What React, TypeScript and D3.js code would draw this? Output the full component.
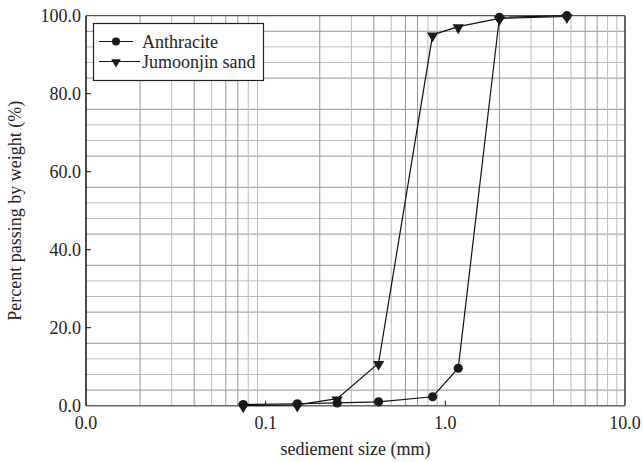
import React from "react";
import * as d3 from "d3";

const sizes = [0.075, 0.15, 0.25, 0.425, 0.85, 1.18, 2.0, 4.75];
const anthracite = [0.3, 0.5, 0.7, 1.0, 2.3, 9.6, 99.6, 100.0];
const jumoonjin = [0.0, 0.2, 1.8, 10.9, 95.1, 97.2, 99.3, 99.8];
const xTicks = [0.01, 0.1, 1, 10];
const xTickLabels = ["0.0", "0.1", "1.0", "10.0"];
const yTicks = [0, 20, 40, 60, 80, 100];
const yTickLabels = ["0.0", "20.0", "40.0", "60.0", "80.0", "100.0"];
const seriesNames = ["Anthracite", "Jumoonjin sand"];

const W = 643, H = 462;
const M = { left: 86, right: 625, top: 15.7, bottom: 405.7 };
const FS = { fontFamily: '"Liberation Serif"', fontSize: "18px" };

export default function App() {
  const x = d3.scaleLog().domain([0.01, 10]).range([M.left, M.right]);
  const y = d3.scaleLinear().domain([0, 100]).range([M.bottom, M.top]);
  const vGrid: { v: number; dark: boolean }[] = [];
  [0.01, 0.1, 1].forEach((d) => {
    for (let k = 2; k <= 9; k++) vGrid.push({ v: k * d, dark: [2, 4, 6, 7].includes(k) });
  });
  const hGrid: { v: number; dark: boolean }[] = [];
  for (let v = 4; v < 100; v += 4) if (v % 20) hGrid.push({ v, dark: v % 20 === 4 || v % 20 === 16 });
  const line = d3.line<number>().x((_, i) => x(sizes[i])).y((d) => y(d));
  const tri = d3.symbol().type(d3.symbolTriangle).size(55)() || "";
  const triL = d3.symbol().type(d3.symbolTriangle).size(40)() || "";
  return (
    <svg width={W} height={H} style={{ position: "absolute", left: 0, top: 0, display: "block" }}>
      <rect width={W} height={H} fill="#fff" />
      {hGrid.map((g) => <line key={"h" + g.v} x1={M.left} x2={M.right} y1={y(g.v)} y2={y(g.v)} stroke={g.dark ? "#959595" : "#bcbcbc"} />)}
      {vGrid.map((g) => <line key={"v" + g.v} x1={x(g.v)} x2={x(g.v)} y1={M.top} y2={M.bottom} stroke={g.dark ? "#959595" : "#bcbcbc"} />)}
      <line x1={M.left} x2={M.right} y1={M.top} y2={M.top} stroke="#555" strokeWidth={1.2} />
      <line x1={M.right} x2={M.right} y1={M.top} y2={M.bottom} stroke="#111" strokeWidth={1.3} />
      <line x1={M.left} x2={M.right} y1={M.bottom} y2={M.bottom} stroke="#666" strokeWidth={1.6} />
      <line x1={M.left} x2={M.left} y1={M.top} y2={M.bottom} stroke="#111" strokeWidth={1.5} />
      {yTicks.slice(1, -1).map((t) => <line key={"yt" + t} x1={M.left} x2={M.left + 5} y1={y(t)} y2={y(t)} stroke="#111" />)}
      {xTicks.slice(1, -1).map((t) => <line key={"xt" + t} x1={x(t)} x2={x(t)} y1={M.bottom} y2={M.bottom - 5} stroke="#111" />)}
      {yTicks.map((t, i) => <text key={"yl" + t} x={M.left - 5} y={y(t) + 6} textAnchor="end" fill="#222" style={FS}>{yTickLabels[i]}</text>)}
      {xTicks.map((t, i) => <text key={"xl" + t} x={x(t)} y={M.bottom + 23} textAnchor="middle" fill="#222" style={FS}>{xTickLabels[i]}</text>)}
      <text x={(M.left + M.right) / 2} y={455} textAnchor="middle" fill="#222" style={FS}>sediement size (mm)</text>
      <text transform={`translate(21,${(M.top + M.bottom) / 2}) rotate(-90)`} textAnchor="middle" fill="#222" style={FS}>Percent passing by weight (%)</text>
      <path d={line(jumoonjin) || ""} fill="none" stroke="#111" strokeWidth={1.2} />
      <path d={line(anthracite) || ""} fill="none" stroke="#111" strokeWidth={1.2} />
      {jumoonjin.map((v, i) => <path key={"j" + i} d={tri} transform={`translate(${x(sizes[i])},${y(v) + 1}) rotate(180)`} fill="#1a1a1a" />)}
      {anthracite.map((v, i) => <circle key={"a" + i} cx={x(sizes[i])} cy={y(v)} r={4.6} fill="#1a1a1a" />)}
      <rect x={93.5} y={23.5} width={170} height={57} fill="#fff" stroke="#222" strokeWidth={1.2} />
      <line x1={99} x2={133} y1={41.5} y2={41.5} stroke="#111" strokeWidth={1.2} />
      <circle cx={116} cy={41.5} r={4} fill="#1a1a1a" />
      <text x={142} y={47.5} fill="#222" style={FS}>{seriesNames[0]}</text>
      <line x1={99} x2={140} y1={61.5} y2={61.5} stroke="#111" strokeWidth={1.2} />
      <path d={triL} transform="translate(116,62) rotate(180)" fill="#1a1a1a" />
      <text x={142} y={67.5} fill="#222" style={FS}>{seriesNames[1]}</text>
    </svg>
  );
}
